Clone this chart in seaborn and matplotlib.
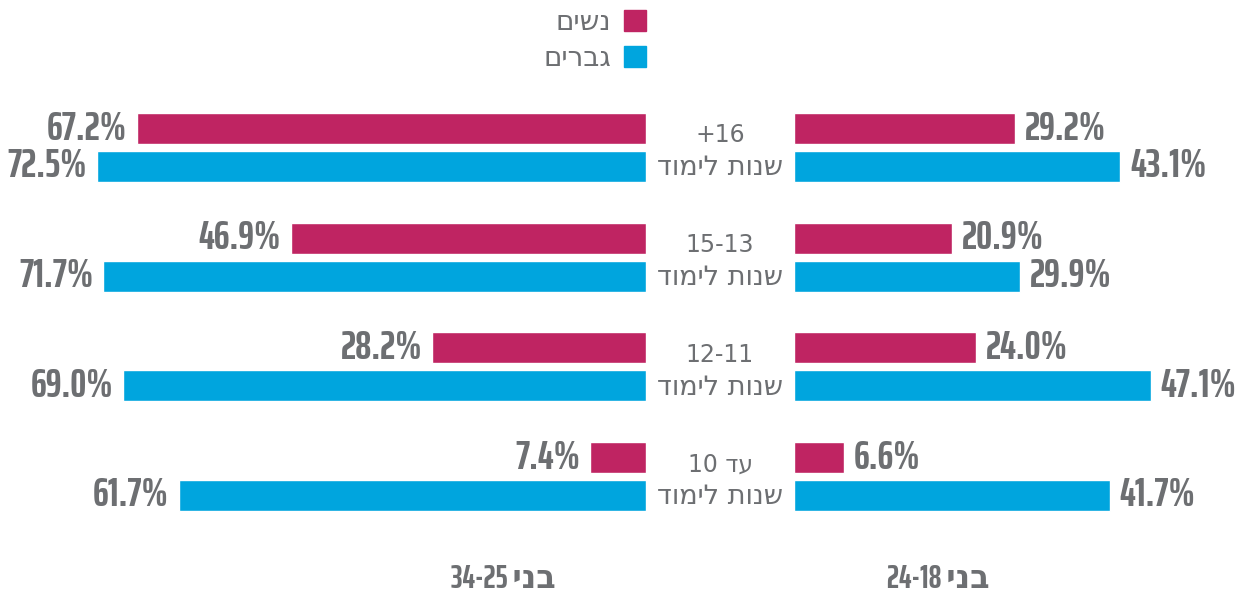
import numpy as np
import matplotlib
matplotlib.use("Agg")
import matplotlib.pyplot as plt
from matplotlib.patches import Patch
import seaborn as sns
import pandas as pd

sns.set_style("white")
plt.rcParams['font.family'] = ['DejaVu Sans']

# data (percent), top group first
edu_line1 = ['+16', '15-13', '12-11', 'עד 10']
edu_line2 = 'שנות לימוד'
genders = ['נשים', 'גברים']
women_25_34 = [67.2, 46.9, 28.2, 7.4]
men_25_34 = [72.5, 71.7, 69.0, 61.7]
women_18_24 = [29.2, 20.9, 24.0, 6.6]
men_18_24 = [43.1, 29.9, 47.1, 41.7]
age_labels = ['בני 34-25', 'בני 24-18']

pink = '#bf2462'
blue = '#00a5de'
grey = '#6d6f72'
num_font = ['Saira ExtraCondensed', 'DejaVu Sans']
heb_font = ['DejaVu Sans']


def rtl(s):
    # crude visual reorder for hebrew: flip word order, flip hebrew words
    out = []
    for w in s.split(' ')[::-1]:
        if any('\u0590' <= c <= '\u05ff' for c in w):
            w = w[::-1]
        out.append(w)
    return ' '.join(out)


def make_df(women, men):
    return pd.DataFrame({
        'edu': edu_line1 * 2,
        'gender': [genders[0]] * 4 + [genders[1]] * 4,
        'value': women + men,
    })


df_old = make_df(women_25_34, men_25_34)
df_young = make_df(women_18_24, men_18_24)

W, H = 1245, 595
fig = plt.figure(figsize=(12.45, 5.95), dpi=100)
px = 7.575  # pixels per percent
ax_bot = (H - 531.4) / H
ax_h = 438.8 / H
axL = fig.add_axes([0, ax_bot, 646 / W, ax_h])
axR = fig.add_axes([794 / W, ax_bot, 451 / W, ax_h])

for ax, df, side in [(axL, df_old, -1), (axR, df_young, 1)]:
    sns.barplot(data=df, x='value', y='edu', hue='gender', hue_order=genders,
                palette=[pink, blue], orient='h', width=0.69, gap=0.18,
                saturation=1, legend=False, ax=ax)
    for c in ax.containers:
        for bar in c:
            w = bar.get_width()
            yc = bar.get_y() + bar.get_height() / 2
            ax.annotate(f'{w:.1f}%', (w, yc), xytext=(side * 7, 0),
                        textcoords='offset points',
                        ha='left' if side > 0 else 'right', va='center',
                        fontsize=29, fontweight='bold', color=grey,
                        family=num_font)
    ax.set_ylim(3.5, -0.5)
    ax.set_xlabel('')
    ax.set_ylabel('')
    ax.set_xticks([])
    ax.set_yticks([])
    for s in ax.spines.values():
        s.set_visible(False)
    ax.patch.set_alpha(0)

axL.set_xlim(646 / px, 0)
axR.set_xlim(0, 451 / px)

# center labels
for i, l1 in enumerate(edu_line1):
    axL.text(-74 / px, i - 0.11, rtl(l1), ha='center', va='center',
             fontsize=17, color=grey, family=heb_font)
    axL.text(-74 / px, i + 0.19, rtl(edu_line2), ha='center', va='center',
             fontsize=19.5, color=grey, family=heb_font)

# age labels at bottom
for xc, lab in zip([503, 938], age_labels):
    fig.text(xc / W, 1 - 579 / H, rtl(lab), ha='center', va='center',
             fontsize=23, fontweight='bold', color=grey, family=num_font)

# legend
handles = [Patch(color=pink), Patch(color=blue)]
fig.legend(handles, [rtl(g) for g in genders], loc='upper right',
           bbox_to_anchor=(646 / W, 1 - 8 / H), markerfirst=False,
           frameon=False, handlelength=0.8, handleheight=0.8,
           borderaxespad=0, borderpad=0,
           prop={'family': heb_font, 'size': 20},
           labelspacing=0.3, handletextpad=0.45, labelcolor=grey)

fig.savefig('out.png', dpi=100)
